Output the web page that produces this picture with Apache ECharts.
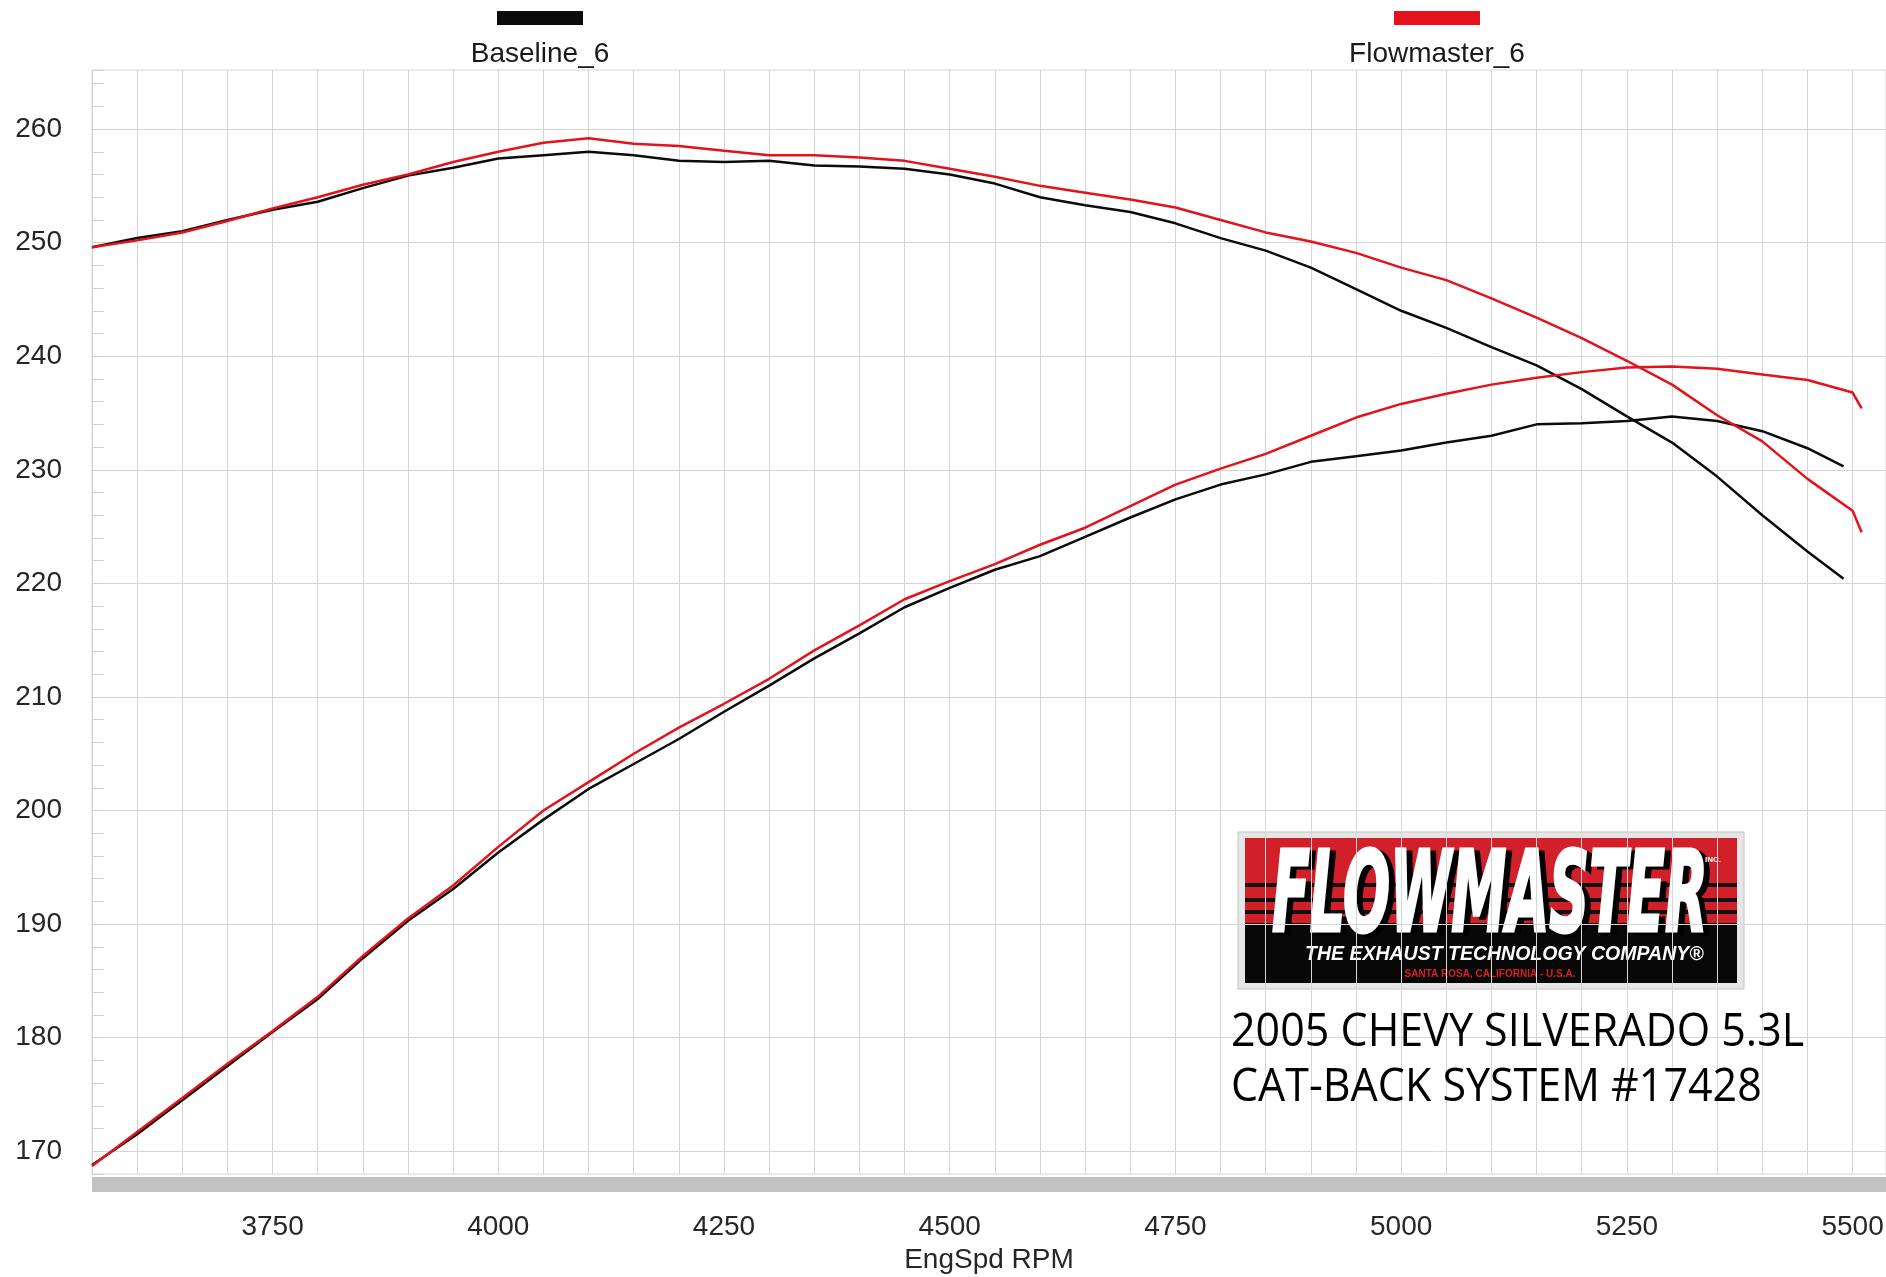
<!DOCTYPE html>
<html>
<head>
<meta charset="utf-8">
<script src="https://cdn.jsdelivr.net/npm/echarts@6/dist/echarts.min.js"></script>
<style>html,body{margin:0;padding:0;background:#fff;}#c{width:1886px;height:1277px;}</style>
</head>
<body>
<div id="c"></div>
<script>
// RPM values
const rpmBase = [3550,3600,3650,3700,3750,3800,3850,3900,3950,4000,4050,4100,4150,4200,4250,4300,4350,4400,4450,4500,4550,4600,4650,4700,4750,4800,4850,4900,4950,5000,5050,5100,5150,5200,5250,5300,5350,5400,5450,5490];
const rpmFlow = [3550,3600,3650,3700,3750,3800,3850,3900,3950,4000,4050,4100,4150,4200,4250,4300,4350,4400,4450,4500,4550,4600,4650,4700,4750,4800,4850,4900,4950,5000,5050,5100,5150,5200,5250,5300,5350,5400,5450,5500,5510];

// Baseline_6 (black)
const baseTorque = [249.6,250.4,251.0,252.0,252.9,253.6,254.8,255.9,256.6,257.4,257.7,258.0,257.7,257.2,257.1,257.2,256.8,256.7,256.5,256.0,255.2,254.0,253.3,252.7,251.7,250.4,249.3,247.8,245.9,244.0,242.5,240.8,239.2,237.1,234.7,232.4,229.4,226.0,222.8,220.4];
const baseHP = [168.8,171.5,174.5,177.5,180.5,183.4,187.0,190.3,193.1,196.3,199.2,201.9,204.1,206.3,208.7,211.0,213.4,215.6,217.9,219.6,221.2,222.4,224.1,225.8,227.4,228.7,229.6,230.7,231.2,231.7,232.4,233.0,234.0,234.1,234.3,234.7,234.3,233.4,231.9,230.3];

// Flowmaster_6 (red)
const flowTorque = [249.6,250.2,250.9,251.9,253.0,254.0,255.1,256.0,257.1,258.0,258.8,259.2,258.7,258.5,258.1,257.7,257.7,257.5,257.2,256.5,255.8,255.0,254.4,253.8,253.1,252.0,250.9,250.1,249.1,247.8,246.7,245.1,243.4,241.6,239.6,237.5,234.8,232.5,229.2,226.4,224.5];
const flowHP = [168.7,171.7,174.7,177.7,180.6,183.6,187.2,190.5,193.4,196.8,200.0,202.5,205.0,207.3,209.4,211.6,214.1,216.3,218.6,220.2,221.7,223.4,224.9,226.8,228.7,230.1,231.4,233.0,234.6,235.8,236.7,237.5,238.1,238.6,239.0,239.1,238.9,238.4,237.9,236.8,235.4];

const seriesNames = ['Baseline_6', 'Flowmaster_6'];
const xTickLabels = [3750, 4000, 4250, 4500, 4750, 5000, 5250, 5500];
const yTickLabels = [170, 180, 190, 200, 210, 220, 230, 240, 250, 260];
const xAxisName = 'EngSpd RPM';
const noteLines = ['2005 CHEVY SILVERADO 5.3L', 'CAT-BACK SYSTEM #17428'];

const BLACK = '#0b0b0b';
const RED = '#e3121b';
const GRID = '#d6d6d6';
const T = 'rgba(0,0,0,0)';

function pairs(xs, ys) { return xs.map((x, i) => [x, ys[i]]); }

const chart = echarts.init(document.getElementById('c'), null, {renderer: 'canvas'});

const lineCommon = {
  type: 'line', showSymbol: false, symbol: 'none', smooth: false,
  animation: false, silent: true
};

const option = {
  backgroundColor: '#ffffff',
  animation: false,
  grid: {left: 92, top: 70, right: 0, bottom: 103, containLabel: false, outerBoundsMode: 'none', show: true, borderColor: GRID, borderWidth: 1, backgroundColor: 'transparent'},
  legend: [
    {data: [seriesNames[0]], left: 497, top: 11, padding: 0, icon: 'rect', itemWidth: 86, itemHeight: 14, formatter: () => '', selectedMode: false},
    {data: [seriesNames[1]], left: 1394, top: 11, padding: 0, icon: 'rect', itemWidth: 86, itemHeight: 14, formatter: () => '', selectedMode: false}
  ],
  xAxis: {
    type: 'value', min: 3550, max: 5537, interval: 50,
    offset: 10,
    axisLine: {show: true, lineStyle: {color: '#c2c2c2', width: 15, cap: 'butt'}},
    axisTick: {show: false},
    splitLine: {show: true, lineStyle: {color: GRID, width: 1}},
    axisLabel: {
      margin: 29, fontSize: 28, fontFamily: 'Liberation Sans, Arial, sans-serif', color: '#262626',
      formatter: v => (xTickLabels.indexOf(v) >= 0 ? String(v) : '')
    },
    name: xAxisName, nameLocation: 'middle', nameGap: 61,
    nameTextStyle: {fontSize: 28, fontFamily: 'Liberation Sans, Arial, sans-serif', color: '#262626'}
  },
  yAxis: {
    type: 'value', min: 168, max: 265.2, interval: 2,
    axisLine: {show: false},
    axisTick: {show: true, inside: true, length: 12, lineStyle: {color: '#d0d0d0'}},
    splitLine: {show: true, lineStyle: {color: [T, GRID, T, T, T], width: 1}},
    axisLabel: {
      margin: 30, fontSize: 28, fontFamily: 'Liberation Sans, Arial, sans-serif', color: '#262626',
      formatter: v => (yTickLabels.indexOf(Math.round(v * 100) / 100) >= 0 ? String(v) : '')
    }
  },
  series: [
    Object.assign({}, lineCommon, {name: seriesNames[0], data: pairs(rpmBase, baseTorque), lineStyle: {color: BLACK, width: 2.5}, itemStyle: {color: BLACK}, z: 3}),
    Object.assign({}, lineCommon, {name: seriesNames[0], data: pairs(rpmBase, baseHP), lineStyle: {color: BLACK, width: 2.5}, itemStyle: {color: BLACK}, z: 3}),
    Object.assign({}, lineCommon, {name: seriesNames[1], data: pairs(rpmFlow, flowTorque), lineStyle: {color: RED, width: 2.5}, itemStyle: {color: RED}, z: 4}),
    Object.assign({}, lineCommon, {name: seriesNames[1], data: pairs(rpmFlow, flowHP), lineStyle: {color: RED, width: 2.5}, itemStyle: {color: RED}, z: 4})
  ],
  graphic: [
    // legend labels under the legend swatches
    {type: 'text', x: 540, y: 54, style: {text: seriesNames[0], fill: '#1a1a1a', font: '28px "Liberation Sans", Arial, sans-serif', textAlign: 'center', textVerticalAlign: 'middle'}},
    {type: 'text', x: 1437, y: 54, style: {text: seriesNames[1], fill: '#1a1a1a', font: '28px "Liberation Sans", Arial, sans-serif', textAlign: 'center', textVerticalAlign: 'middle'}},
    // Flowmaster badge
    {type: 'group', z: 100, children: [
      {type: 'rect', shape: {x: 1238, y: 832, width: 506, height: 157}, style: {fill: '#e6e6e6', stroke: '#c4c4c4', lineWidth: 1}},
      {type: 'rect', shape: {x: 1245, y: 838, width: 492, height: 86}, style: {fill: '#d2202a'}},
      {type: 'rect', shape: {x: 1245, y: 923, width: 492, height: 60}, style: {fill: '#080808'}},
      {type: 'rect', shape: {x: 1245, y: 883, width: 492, height: 4}, style: {fill: '#111'}},
      {type: 'rect', shape: {x: 1245, y: 898, width: 492, height: 4}, style: {fill: '#111'}},
      {type: 'rect', shape: {x: 1245, y: 910, width: 492, height: 4}, style: {fill: '#111'}},
      {type: 'text', x: 1278, y: 905, scaleX: 0.55, style: {text: 'FLOWMASTER', fill: '#000', stroke: '#000', lineWidth: 3, font: 'italic bold 112px "DejaVu Sans Condensed", "DejaVu Sans", sans-serif', textAlign: 'left', textVerticalAlign: 'middle'}},
      {type: 'text', x: 1272, y: 902, scaleX: 0.55, style: {text: 'FLOWMASTER', fill: '#fff', stroke: '#fff', lineWidth: 3, font: 'italic bold 112px "DejaVu Sans Condensed", "DejaVu Sans", sans-serif', textAlign: 'left', textVerticalAlign: 'middle'}},
      {type: 'text', x: 1705, y: 860, style: {text: 'INC.', fill: '#fff', font: 'bold 8px "Liberation Sans", Arial, sans-serif', textAlign: 'left', textVerticalAlign: 'middle'}},
      {type: 'text', x: 1305, y: 955, style: {text: 'THE EXHAUST TECHNOLOGY COMPANY\u00AE', fill: '#fff', font: 'italic bold 19.5px "Liberation Sans", Arial, sans-serif', textAlign: 'left', textVerticalAlign: 'middle'}},
      {type: 'text', x: 1490, y: 974, style: {text: 'SANTA ROSA, CALIFORNIA - U.S.A.', fill: '#d2202a', font: 'bold 10px "Liberation Sans", Arial, sans-serif', textAlign: 'center', textVerticalAlign: 'middle'}}
    ]},
    // vehicle note
    {type: 'text', x: 1231, y: 1010, scaleX: 0.935, z: 100, style: {text: noteLines[0], fill: '#000', font: '46px "Open Sans", "Noto Sans", sans-serif', textAlign: 'left', textVerticalAlign: 'top'}},
    {type: 'text', x: 1231, y: 1065, scaleX: 0.935, z: 100, style: {text: noteLines[1], fill: '#000', font: '46px "Open Sans", "Noto Sans", sans-serif', textAlign: 'left', textVerticalAlign: 'top'}}
  ]
};

chart.setOption(option);
</script>
</body>
</html>
